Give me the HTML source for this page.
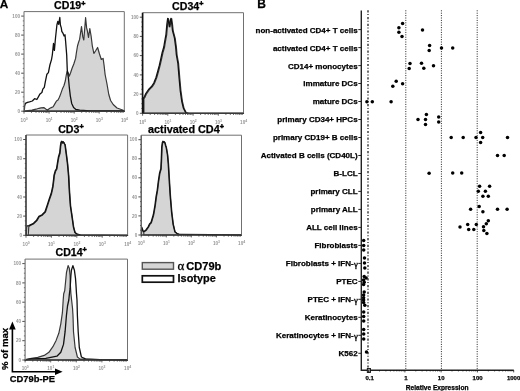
<!DOCTYPE html>
<html><head><meta charset="utf-8"><style>
html,body{margin:0;padding:0;background:#fff;}
svg{display:block;will-change:transform;}
text[font-weight="bold"]{stroke:#000;stroke-width:0.25px;}
</style></head><body>
<svg width="520" height="391" viewBox="0 0 520 391">
<rect width="520" height="391" fill="#fff"/>
<text x="-0.2" y="8.3" font-size="11.8" font-weight="bold" font-family='"Liberation Sans", sans-serif'>A</text>
<line x1="21.2" y1="111.2" x2="24.0" y2="111.2" stroke="#3a3a3a" stroke-width="0.9"/>
<text x="20.0" y="112.8" font-size="4.6" font-weight="700" text-anchor="end" fill="#959595" font-family='"Liberation Sans", sans-serif'>0</text>
<line x1="22.8" y1="106.4" x2="24.0" y2="106.4" stroke="#3a3a3a" stroke-width="0.8"/>
<line x1="22.8" y1="101.7" x2="24.0" y2="101.7" stroke="#3a3a3a" stroke-width="0.8"/>
<line x1="22.8" y1="96.9" x2="24.0" y2="96.9" stroke="#3a3a3a" stroke-width="0.8"/>
<line x1="21.2" y1="92.2" x2="24.0" y2="92.2" stroke="#3a3a3a" stroke-width="0.9"/>
<text x="20.0" y="93.8" font-size="4.6" font-weight="700" text-anchor="end" fill="#959595" font-family='"Liberation Sans", sans-serif'>20</text>
<line x1="22.8" y1="87.4" x2="24.0" y2="87.4" stroke="#3a3a3a" stroke-width="0.8"/>
<line x1="22.8" y1="82.7" x2="24.0" y2="82.7" stroke="#3a3a3a" stroke-width="0.8"/>
<line x1="22.8" y1="77.9" x2="24.0" y2="77.9" stroke="#3a3a3a" stroke-width="0.8"/>
<line x1="21.2" y1="73.2" x2="24.0" y2="73.2" stroke="#3a3a3a" stroke-width="0.9"/>
<text x="20.0" y="74.8" font-size="4.6" font-weight="700" text-anchor="end" fill="#959595" font-family='"Liberation Sans", sans-serif'>40</text>
<line x1="22.8" y1="68.4" x2="24.0" y2="68.4" stroke="#3a3a3a" stroke-width="0.8"/>
<line x1="22.8" y1="63.7" x2="24.0" y2="63.7" stroke="#3a3a3a" stroke-width="0.8"/>
<line x1="22.8" y1="58.9" x2="24.0" y2="58.9" stroke="#3a3a3a" stroke-width="0.8"/>
<line x1="21.2" y1="54.1" x2="24.0" y2="54.1" stroke="#3a3a3a" stroke-width="0.9"/>
<text x="20.0" y="55.7" font-size="4.6" font-weight="700" text-anchor="end" fill="#959595" font-family='"Liberation Sans", sans-serif'>60</text>
<line x1="22.8" y1="49.4" x2="24.0" y2="49.4" stroke="#3a3a3a" stroke-width="0.8"/>
<line x1="22.8" y1="44.6" x2="24.0" y2="44.6" stroke="#3a3a3a" stroke-width="0.8"/>
<line x1="22.8" y1="39.9" x2="24.0" y2="39.9" stroke="#3a3a3a" stroke-width="0.8"/>
<line x1="21.2" y1="35.1" x2="24.0" y2="35.1" stroke="#3a3a3a" stroke-width="0.9"/>
<text x="20.0" y="36.7" font-size="4.6" font-weight="700" text-anchor="end" fill="#959595" font-family='"Liberation Sans", sans-serif'>80</text>
<line x1="22.8" y1="30.4" x2="24.0" y2="30.4" stroke="#3a3a3a" stroke-width="0.8"/>
<line x1="22.8" y1="25.6" x2="24.0" y2="25.6" stroke="#3a3a3a" stroke-width="0.8"/>
<line x1="22.8" y1="20.9" x2="24.0" y2="20.9" stroke="#3a3a3a" stroke-width="0.8"/>
<line x1="21.2" y1="16.1" x2="24.0" y2="16.1" stroke="#3a3a3a" stroke-width="0.9"/>
<text x="20.0" y="17.7" font-size="4.6" font-weight="700" text-anchor="end" fill="#959595" font-family='"Liberation Sans", sans-serif'>100</text>
<line x1="24.0" y1="111.2" x2="24.0" y2="113.6" stroke="#3a3a3a" stroke-width="0.8"/>
<line x1="31.5" y1="111.2" x2="31.5" y2="112.8" stroke="#3a3a3a" stroke-width="0.8"/>
<line x1="36.0" y1="111.2" x2="36.0" y2="112.8" stroke="#3a3a3a" stroke-width="0.8"/>
<line x1="39.1" y1="111.2" x2="39.1" y2="112.8" stroke="#3a3a3a" stroke-width="0.8"/>
<line x1="41.5" y1="111.2" x2="41.5" y2="112.8" stroke="#3a3a3a" stroke-width="0.8"/>
<line x1="43.5" y1="111.2" x2="43.5" y2="112.8" stroke="#3a3a3a" stroke-width="0.8"/>
<line x1="45.2" y1="111.2" x2="45.2" y2="112.8" stroke="#3a3a3a" stroke-width="0.8"/>
<line x1="46.6" y1="111.2" x2="46.6" y2="112.8" stroke="#3a3a3a" stroke-width="0.8"/>
<line x1="47.9" y1="111.2" x2="47.9" y2="112.8" stroke="#3a3a3a" stroke-width="0.8"/>
<line x1="49.1" y1="111.2" x2="49.1" y2="113.6" stroke="#3a3a3a" stroke-width="0.8"/>
<line x1="56.6" y1="111.2" x2="56.6" y2="112.8" stroke="#3a3a3a" stroke-width="0.8"/>
<line x1="61.0" y1="111.2" x2="61.0" y2="112.8" stroke="#3a3a3a" stroke-width="0.8"/>
<line x1="64.2" y1="111.2" x2="64.2" y2="112.8" stroke="#3a3a3a" stroke-width="0.8"/>
<line x1="66.6" y1="111.2" x2="66.6" y2="112.8" stroke="#3a3a3a" stroke-width="0.8"/>
<line x1="68.6" y1="111.2" x2="68.6" y2="112.8" stroke="#3a3a3a" stroke-width="0.8"/>
<line x1="70.3" y1="111.2" x2="70.3" y2="112.8" stroke="#3a3a3a" stroke-width="0.8"/>
<line x1="71.7" y1="111.2" x2="71.7" y2="112.8" stroke="#3a3a3a" stroke-width="0.8"/>
<line x1="73.0" y1="111.2" x2="73.0" y2="112.8" stroke="#3a3a3a" stroke-width="0.8"/>
<line x1="74.2" y1="111.2" x2="74.2" y2="113.6" stroke="#3a3a3a" stroke-width="0.8"/>
<line x1="81.7" y1="111.2" x2="81.7" y2="112.8" stroke="#3a3a3a" stroke-width="0.8"/>
<line x1="86.1" y1="111.2" x2="86.1" y2="112.8" stroke="#3a3a3a" stroke-width="0.8"/>
<line x1="89.2" y1="111.2" x2="89.2" y2="112.8" stroke="#3a3a3a" stroke-width="0.8"/>
<line x1="91.7" y1="111.2" x2="91.7" y2="112.8" stroke="#3a3a3a" stroke-width="0.8"/>
<line x1="93.7" y1="111.2" x2="93.7" y2="112.8" stroke="#3a3a3a" stroke-width="0.8"/>
<line x1="95.3" y1="111.2" x2="95.3" y2="112.8" stroke="#3a3a3a" stroke-width="0.8"/>
<line x1="96.8" y1="111.2" x2="96.8" y2="112.8" stroke="#3a3a3a" stroke-width="0.8"/>
<line x1="98.1" y1="111.2" x2="98.1" y2="112.8" stroke="#3a3a3a" stroke-width="0.8"/>
<line x1="99.2" y1="111.2" x2="99.2" y2="113.6" stroke="#3a3a3a" stroke-width="0.8"/>
<line x1="106.8" y1="111.2" x2="106.8" y2="112.8" stroke="#3a3a3a" stroke-width="0.8"/>
<line x1="111.2" y1="111.2" x2="111.2" y2="112.8" stroke="#3a3a3a" stroke-width="0.8"/>
<line x1="114.3" y1="111.2" x2="114.3" y2="112.8" stroke="#3a3a3a" stroke-width="0.8"/>
<line x1="116.8" y1="111.2" x2="116.8" y2="112.8" stroke="#3a3a3a" stroke-width="0.8"/>
<line x1="118.7" y1="111.2" x2="118.7" y2="112.8" stroke="#3a3a3a" stroke-width="0.8"/>
<line x1="120.4" y1="111.2" x2="120.4" y2="112.8" stroke="#3a3a3a" stroke-width="0.8"/>
<line x1="121.9" y1="111.2" x2="121.9" y2="112.8" stroke="#3a3a3a" stroke-width="0.8"/>
<line x1="123.2" y1="111.2" x2="123.2" y2="112.8" stroke="#3a3a3a" stroke-width="0.8"/>
<text x="24.1" y="121.5" font-size="4.6" font-weight="700" text-anchor="middle" fill="#959595" font-family='"Liberation Sans", sans-serif'>10<tspan font-size="3.4" dy="-2">0</tspan></text>
<text x="49.2" y="121.5" font-size="4.6" font-weight="700" text-anchor="middle" fill="#959595" font-family='"Liberation Sans", sans-serif'>10<tspan font-size="3.4" dy="-2">1</tspan></text>
<text x="74.2" y="121.5" font-size="4.6" font-weight="700" text-anchor="middle" fill="#959595" font-family='"Liberation Sans", sans-serif'>10<tspan font-size="3.4" dy="-2">2</tspan></text>
<text x="99.3" y="121.5" font-size="4.6" font-weight="700" text-anchor="middle" fill="#959595" font-family='"Liberation Sans", sans-serif'>10<tspan font-size="3.4" dy="-2">3</tspan></text>
<text x="124.4" y="121.5" font-size="4.6" font-weight="700" text-anchor="middle" fill="#959595" font-family='"Liberation Sans", sans-serif'>10<tspan font-size="3.4" dy="-2">4</tspan></text>
<text x="54.1" y="9.4" font-size="10.6" font-weight="bold" font-family='"Liberation Sans", sans-serif'>CD19<tspan font-size="7.2" dy="-3.8" stroke-width="0.5">+</tspan></text>
<polygon points="24.0,111.2 24.0,111.0 28.0,110.6 32.0,110.2 36.0,109.2 39.0,108.3 41.0,107.9 43.8,107.6 45.7,109.0 47.6,110.0 49.5,108.6 51.3,107.6 53.2,106.7 55.1,103.4 56.5,101.0 58.0,100.1 59.4,97.2 60.8,93.6 62.6,88.4 64.0,85.5 65.3,81.0 66.2,75.5 67.0,71.5 68.0,72.3 69.2,76.2 70.5,73.0 72.0,68.5 73.8,64.0 75.6,58.4 76.5,52.0 77.5,46.0 78.4,42.8 79.6,39.4 81.5,26.6 82.8,36.9 83.8,40.0 85.6,17.7 86.6,27.9 87.3,30.5 88.5,37.5 89.8,28.5 91.1,36.0 92.3,45.8 93.9,53.5 95.8,50.5 97.6,47.5 99.5,54.0 101.3,59.5 103.1,58.4 104.1,65.5 105.1,74.5 106.9,83.5 108.8,94.5 110.6,100.5 113.2,104.5 117.0,108.0 122.6,110.0 124.3,111.0 124.3,111.2" fill="#d5d5d5" stroke="#383838" stroke-width="1.2" stroke-linejoin="round"/>
<polyline points="24.3,111.0 24.6,106.0 25.4,103.3 27.5,102.3 29.5,101.8 32.3,101.0 34.6,98.7 36.9,99.5 40.0,93.9 41.9,92.5 42.8,89.2 44.3,87.3 45.3,81.9 46.9,74.2 48.4,72.6 49.9,65.0 51.5,59.6 52.3,55.0 53.5,43.5 54.4,50.4 55.5,38.0 56.9,25.0 57.8,21.5 58.7,24.4 59.8,17.5 60.4,25.0 61.3,27.9 61.8,31.3 62.9,33.1 64.1,36.0 65.0,34.8 65.6,41.2 66.7,55.0 67.3,70.7 68.4,77.8 69.3,87.3 70.3,95.8 71.7,103.4 73.6,107.6 75.9,109.5 79.7,110.2 90.0,110.8 124.3,111.0" fill="none" stroke="#111" stroke-width="1.3" stroke-linejoin="round" stroke-linecap="round"/>
<path d="M24.0,11.6 H124.3 V111.2" fill="none" stroke="#707070" stroke-width="1"/>
<path d="M24.0,111.2 H124.3" fill="none" stroke="#3a3a3a" stroke-width="1.4"/>
<path d="M24.0,11.6 V111.2" fill="none" stroke="#7a7a7a" stroke-width="1.1"/>
<line x1="139.8" y1="113.3" x2="142.6" y2="113.3" stroke="#3a3a3a" stroke-width="0.9"/>
<text x="138.6" y="114.9" font-size="4.6" font-weight="700" text-anchor="end" fill="#959595" font-family='"Liberation Sans", sans-serif'>0</text>
<line x1="141.4" y1="108.5" x2="142.6" y2="108.5" stroke="#3a3a3a" stroke-width="0.8"/>
<line x1="141.4" y1="103.7" x2="142.6" y2="103.7" stroke="#3a3a3a" stroke-width="0.8"/>
<line x1="141.4" y1="98.9" x2="142.6" y2="98.9" stroke="#3a3a3a" stroke-width="0.8"/>
<line x1="139.8" y1="94.1" x2="142.6" y2="94.1" stroke="#3a3a3a" stroke-width="0.9"/>
<text x="138.6" y="95.7" font-size="4.6" font-weight="700" text-anchor="end" fill="#959595" font-family='"Liberation Sans", sans-serif'>20</text>
<line x1="141.4" y1="89.3" x2="142.6" y2="89.3" stroke="#3a3a3a" stroke-width="0.8"/>
<line x1="141.4" y1="84.5" x2="142.6" y2="84.5" stroke="#3a3a3a" stroke-width="0.8"/>
<line x1="141.4" y1="79.7" x2="142.6" y2="79.7" stroke="#3a3a3a" stroke-width="0.8"/>
<line x1="139.8" y1="74.9" x2="142.6" y2="74.9" stroke="#3a3a3a" stroke-width="0.9"/>
<text x="138.6" y="76.5" font-size="4.6" font-weight="700" text-anchor="end" fill="#959595" font-family='"Liberation Sans", sans-serif'>40</text>
<line x1="141.4" y1="70.1" x2="142.6" y2="70.1" stroke="#3a3a3a" stroke-width="0.8"/>
<line x1="141.4" y1="65.2" x2="142.6" y2="65.2" stroke="#3a3a3a" stroke-width="0.8"/>
<line x1="141.4" y1="60.4" x2="142.6" y2="60.4" stroke="#3a3a3a" stroke-width="0.8"/>
<line x1="139.8" y1="55.6" x2="142.6" y2="55.6" stroke="#3a3a3a" stroke-width="0.9"/>
<text x="138.6" y="57.2" font-size="4.6" font-weight="700" text-anchor="end" fill="#959595" font-family='"Liberation Sans", sans-serif'>60</text>
<line x1="141.4" y1="50.8" x2="142.6" y2="50.8" stroke="#3a3a3a" stroke-width="0.8"/>
<line x1="141.4" y1="46.0" x2="142.6" y2="46.0" stroke="#3a3a3a" stroke-width="0.8"/>
<line x1="141.4" y1="41.2" x2="142.6" y2="41.2" stroke="#3a3a3a" stroke-width="0.8"/>
<line x1="139.8" y1="36.4" x2="142.6" y2="36.4" stroke="#3a3a3a" stroke-width="0.9"/>
<text x="138.6" y="38.0" font-size="4.6" font-weight="700" text-anchor="end" fill="#959595" font-family='"Liberation Sans", sans-serif'>80</text>
<line x1="141.4" y1="31.6" x2="142.6" y2="31.6" stroke="#3a3a3a" stroke-width="0.8"/>
<line x1="141.4" y1="26.8" x2="142.6" y2="26.8" stroke="#3a3a3a" stroke-width="0.8"/>
<line x1="141.4" y1="22.0" x2="142.6" y2="22.0" stroke="#3a3a3a" stroke-width="0.8"/>
<line x1="139.8" y1="17.2" x2="142.6" y2="17.2" stroke="#3a3a3a" stroke-width="0.9"/>
<text x="138.6" y="18.8" font-size="4.6" font-weight="700" text-anchor="end" fill="#959595" font-family='"Liberation Sans", sans-serif'>100</text>
<line x1="142.6" y1="113.3" x2="142.6" y2="115.7" stroke="#3a3a3a" stroke-width="0.8"/>
<line x1="150.2" y1="113.3" x2="150.2" y2="114.9" stroke="#3a3a3a" stroke-width="0.8"/>
<line x1="154.6" y1="113.3" x2="154.6" y2="114.9" stroke="#3a3a3a" stroke-width="0.8"/>
<line x1="157.8" y1="113.3" x2="157.8" y2="114.9" stroke="#3a3a3a" stroke-width="0.8"/>
<line x1="160.2" y1="113.3" x2="160.2" y2="114.9" stroke="#3a3a3a" stroke-width="0.8"/>
<line x1="162.2" y1="113.3" x2="162.2" y2="114.9" stroke="#3a3a3a" stroke-width="0.8"/>
<line x1="163.9" y1="113.3" x2="163.9" y2="114.9" stroke="#3a3a3a" stroke-width="0.8"/>
<line x1="165.4" y1="113.3" x2="165.4" y2="114.9" stroke="#3a3a3a" stroke-width="0.8"/>
<line x1="166.7" y1="113.3" x2="166.7" y2="114.9" stroke="#3a3a3a" stroke-width="0.8"/>
<line x1="167.8" y1="113.3" x2="167.8" y2="115.7" stroke="#3a3a3a" stroke-width="0.8"/>
<line x1="175.4" y1="113.3" x2="175.4" y2="114.9" stroke="#3a3a3a" stroke-width="0.8"/>
<line x1="179.9" y1="113.3" x2="179.9" y2="114.9" stroke="#3a3a3a" stroke-width="0.8"/>
<line x1="183.0" y1="113.3" x2="183.0" y2="114.9" stroke="#3a3a3a" stroke-width="0.8"/>
<line x1="185.5" y1="113.3" x2="185.5" y2="114.9" stroke="#3a3a3a" stroke-width="0.8"/>
<line x1="187.5" y1="113.3" x2="187.5" y2="114.9" stroke="#3a3a3a" stroke-width="0.8"/>
<line x1="189.1" y1="113.3" x2="189.1" y2="114.9" stroke="#3a3a3a" stroke-width="0.8"/>
<line x1="190.6" y1="113.3" x2="190.6" y2="114.9" stroke="#3a3a3a" stroke-width="0.8"/>
<line x1="191.9" y1="113.3" x2="191.9" y2="114.9" stroke="#3a3a3a" stroke-width="0.8"/>
<line x1="193.1" y1="113.3" x2="193.1" y2="115.7" stroke="#3a3a3a" stroke-width="0.8"/>
<line x1="200.6" y1="113.3" x2="200.6" y2="114.9" stroke="#3a3a3a" stroke-width="0.8"/>
<line x1="205.1" y1="113.3" x2="205.1" y2="114.9" stroke="#3a3a3a" stroke-width="0.8"/>
<line x1="208.2" y1="113.3" x2="208.2" y2="114.9" stroke="#3a3a3a" stroke-width="0.8"/>
<line x1="210.7" y1="113.3" x2="210.7" y2="114.9" stroke="#3a3a3a" stroke-width="0.8"/>
<line x1="212.7" y1="113.3" x2="212.7" y2="114.9" stroke="#3a3a3a" stroke-width="0.8"/>
<line x1="214.4" y1="113.3" x2="214.4" y2="114.9" stroke="#3a3a3a" stroke-width="0.8"/>
<line x1="215.8" y1="113.3" x2="215.8" y2="114.9" stroke="#3a3a3a" stroke-width="0.8"/>
<line x1="217.1" y1="113.3" x2="217.1" y2="114.9" stroke="#3a3a3a" stroke-width="0.8"/>
<line x1="218.3" y1="113.3" x2="218.3" y2="115.7" stroke="#3a3a3a" stroke-width="0.8"/>
<line x1="225.9" y1="113.3" x2="225.9" y2="114.9" stroke="#3a3a3a" stroke-width="0.8"/>
<line x1="230.3" y1="113.3" x2="230.3" y2="114.9" stroke="#3a3a3a" stroke-width="0.8"/>
<line x1="233.5" y1="113.3" x2="233.5" y2="114.9" stroke="#3a3a3a" stroke-width="0.8"/>
<line x1="235.9" y1="113.3" x2="235.9" y2="114.9" stroke="#3a3a3a" stroke-width="0.8"/>
<line x1="237.9" y1="113.3" x2="237.9" y2="114.9" stroke="#3a3a3a" stroke-width="0.8"/>
<line x1="239.6" y1="113.3" x2="239.6" y2="114.9" stroke="#3a3a3a" stroke-width="0.8"/>
<line x1="241.1" y1="113.3" x2="241.1" y2="114.9" stroke="#3a3a3a" stroke-width="0.8"/>
<line x1="242.3" y1="113.3" x2="242.3" y2="114.9" stroke="#3a3a3a" stroke-width="0.8"/>
<text x="142.7" y="123.6" font-size="4.6" font-weight="700" text-anchor="middle" fill="#959595" font-family='"Liberation Sans", sans-serif'>10<tspan font-size="3.4" dy="-2">0</tspan></text>
<text x="167.9" y="123.6" font-size="4.6" font-weight="700" text-anchor="middle" fill="#959595" font-family='"Liberation Sans", sans-serif'>10<tspan font-size="3.4" dy="-2">1</tspan></text>
<text x="193.2" y="123.6" font-size="4.6" font-weight="700" text-anchor="middle" fill="#959595" font-family='"Liberation Sans", sans-serif'>10<tspan font-size="3.4" dy="-2">2</tspan></text>
<text x="218.4" y="123.6" font-size="4.6" font-weight="700" text-anchor="middle" fill="#959595" font-family='"Liberation Sans", sans-serif'>10<tspan font-size="3.4" dy="-2">3</tspan></text>
<text x="243.6" y="123.6" font-size="4.6" font-weight="700" text-anchor="middle" fill="#959595" font-family='"Liberation Sans", sans-serif'>10<tspan font-size="3.4" dy="-2">4</tspan></text>
<text x="172.1" y="9.7" font-size="10.6" font-weight="bold" font-family='"Liberation Sans", sans-serif'>CD34<tspan font-size="7.2" dy="-3.8" stroke-width="0.5">+</tspan></text>
<polygon points="143.9,113.3 143.9,98.8 145.2,96.8 146.5,93.8 149.2,89.8 152.2,86.8 154.5,83.3 156.7,77.8 158.4,71.8 160.0,65.8 161.5,59.3 162.9,52.8 164.5,47.3 165.3,42.3 166.7,34.6 167.6,24.3 168.4,18.6 169.2,21.8 170.0,26.9 170.9,21.3 171.7,18.6 172.5,24.3 173.2,30.8 175.2,38.4 176.4,47.4 177.1,55.3 178.6,63.7 179.8,78.3 180.9,90.6 182.4,101.3 184.0,108.2 186.3,112.8 188.7,113.6 188.7,113.3" fill="#d5d5d5" stroke="#383838" stroke-width="1.2" stroke-linejoin="round"/>
<polyline points="143.2,113.3 143.2,98.5 144.5,96.5 145.8,93.5 148.5,89.5 151.5,86.5 153.8,83.0 156.0,77.5 157.7,71.5 159.3,65.5 160.8,59.0 162.2,52.5 163.8,47.0 164.6,42.0 166.0,34.3 166.9,24.0 167.7,18.3 168.5,21.5 169.3,26.6 170.2,21.0 171.0,18.3 171.8,24.0 172.5,30.5 174.5,38.1 175.7,47.1 176.4,55.0 177.9,63.4 179.1,78.0 180.2,90.3 181.7,101.0 183.3,107.9 185.6,112.5 188.0,113.3 243.5,113.3" fill="none" stroke="#111" stroke-width="1.3" stroke-linejoin="round" stroke-linecap="round"/>
<path d="M142.6,12.7 H243.5 V113.3" fill="none" stroke="#707070" stroke-width="1"/>
<path d="M142.6,113.3 H243.5" fill="none" stroke="#3a3a3a" stroke-width="1.4"/>
<path d="M142.6,12.7 V113.3" fill="none" stroke="#111" stroke-width="1.7"/>
<line x1="23.2" y1="235.3" x2="26.0" y2="235.3" stroke="#3a3a3a" stroke-width="0.9"/>
<text x="22.0" y="236.9" font-size="4.6" font-weight="700" text-anchor="end" fill="#959595" font-family='"Liberation Sans", sans-serif'>0</text>
<line x1="24.8" y1="230.5" x2="26.0" y2="230.5" stroke="#3a3a3a" stroke-width="0.8"/>
<line x1="24.8" y1="225.7" x2="26.0" y2="225.7" stroke="#3a3a3a" stroke-width="0.8"/>
<line x1="24.8" y1="220.9" x2="26.0" y2="220.9" stroke="#3a3a3a" stroke-width="0.8"/>
<line x1="23.2" y1="216.1" x2="26.0" y2="216.1" stroke="#3a3a3a" stroke-width="0.9"/>
<text x="22.0" y="217.7" font-size="4.6" font-weight="700" text-anchor="end" fill="#959595" font-family='"Liberation Sans", sans-serif'>20</text>
<line x1="24.8" y1="211.4" x2="26.0" y2="211.4" stroke="#3a3a3a" stroke-width="0.8"/>
<line x1="24.8" y1="206.6" x2="26.0" y2="206.6" stroke="#3a3a3a" stroke-width="0.8"/>
<line x1="24.8" y1="201.8" x2="26.0" y2="201.8" stroke="#3a3a3a" stroke-width="0.8"/>
<line x1="23.2" y1="197.0" x2="26.0" y2="197.0" stroke="#3a3a3a" stroke-width="0.9"/>
<text x="22.0" y="198.6" font-size="4.6" font-weight="700" text-anchor="end" fill="#959595" font-family='"Liberation Sans", sans-serif'>40</text>
<line x1="24.8" y1="192.2" x2="26.0" y2="192.2" stroke="#3a3a3a" stroke-width="0.8"/>
<line x1="24.8" y1="187.4" x2="26.0" y2="187.4" stroke="#3a3a3a" stroke-width="0.8"/>
<line x1="24.8" y1="182.6" x2="26.0" y2="182.6" stroke="#3a3a3a" stroke-width="0.8"/>
<line x1="23.2" y1="177.8" x2="26.0" y2="177.8" stroke="#3a3a3a" stroke-width="0.9"/>
<text x="22.0" y="179.4" font-size="4.6" font-weight="700" text-anchor="end" fill="#959595" font-family='"Liberation Sans", sans-serif'>60</text>
<line x1="24.8" y1="173.0" x2="26.0" y2="173.0" stroke="#3a3a3a" stroke-width="0.8"/>
<line x1="24.8" y1="168.2" x2="26.0" y2="168.2" stroke="#3a3a3a" stroke-width="0.8"/>
<line x1="24.8" y1="163.4" x2="26.0" y2="163.4" stroke="#3a3a3a" stroke-width="0.8"/>
<line x1="23.2" y1="158.7" x2="26.0" y2="158.7" stroke="#3a3a3a" stroke-width="0.9"/>
<text x="22.0" y="160.3" font-size="4.6" font-weight="700" text-anchor="end" fill="#959595" font-family='"Liberation Sans", sans-serif'>80</text>
<line x1="24.8" y1="153.9" x2="26.0" y2="153.9" stroke="#3a3a3a" stroke-width="0.8"/>
<line x1="24.8" y1="149.1" x2="26.0" y2="149.1" stroke="#3a3a3a" stroke-width="0.8"/>
<line x1="24.8" y1="144.3" x2="26.0" y2="144.3" stroke="#3a3a3a" stroke-width="0.8"/>
<line x1="23.2" y1="139.5" x2="26.0" y2="139.5" stroke="#3a3a3a" stroke-width="0.9"/>
<text x="22.0" y="141.1" font-size="4.6" font-weight="700" text-anchor="end" fill="#959595" font-family='"Liberation Sans", sans-serif'>100</text>
<line x1="26.0" y1="235.3" x2="26.0" y2="237.7" stroke="#3a3a3a" stroke-width="0.8"/>
<line x1="33.6" y1="235.3" x2="33.6" y2="236.9" stroke="#3a3a3a" stroke-width="0.8"/>
<line x1="38.1" y1="235.3" x2="38.1" y2="236.9" stroke="#3a3a3a" stroke-width="0.8"/>
<line x1="41.3" y1="235.3" x2="41.3" y2="236.9" stroke="#3a3a3a" stroke-width="0.8"/>
<line x1="43.8" y1="235.3" x2="43.8" y2="236.9" stroke="#3a3a3a" stroke-width="0.8"/>
<line x1="45.8" y1="235.3" x2="45.8" y2="236.9" stroke="#3a3a3a" stroke-width="0.8"/>
<line x1="47.5" y1="235.3" x2="47.5" y2="236.9" stroke="#3a3a3a" stroke-width="0.8"/>
<line x1="48.9" y1="235.3" x2="48.9" y2="236.9" stroke="#3a3a3a" stroke-width="0.8"/>
<line x1="50.2" y1="235.3" x2="50.2" y2="236.9" stroke="#3a3a3a" stroke-width="0.8"/>
<line x1="51.4" y1="235.3" x2="51.4" y2="237.7" stroke="#3a3a3a" stroke-width="0.8"/>
<line x1="59.0" y1="235.3" x2="59.0" y2="236.9" stroke="#3a3a3a" stroke-width="0.8"/>
<line x1="63.5" y1="235.3" x2="63.5" y2="236.9" stroke="#3a3a3a" stroke-width="0.8"/>
<line x1="66.7" y1="235.3" x2="66.7" y2="236.9" stroke="#3a3a3a" stroke-width="0.8"/>
<line x1="69.2" y1="235.3" x2="69.2" y2="236.9" stroke="#3a3a3a" stroke-width="0.8"/>
<line x1="71.2" y1="235.3" x2="71.2" y2="236.9" stroke="#3a3a3a" stroke-width="0.8"/>
<line x1="72.9" y1="235.3" x2="72.9" y2="236.9" stroke="#3a3a3a" stroke-width="0.8"/>
<line x1="74.3" y1="235.3" x2="74.3" y2="236.9" stroke="#3a3a3a" stroke-width="0.8"/>
<line x1="75.6" y1="235.3" x2="75.6" y2="236.9" stroke="#3a3a3a" stroke-width="0.8"/>
<line x1="76.8" y1="235.3" x2="76.8" y2="237.7" stroke="#3a3a3a" stroke-width="0.8"/>
<line x1="84.4" y1="235.3" x2="84.4" y2="236.9" stroke="#3a3a3a" stroke-width="0.8"/>
<line x1="88.9" y1="235.3" x2="88.9" y2="236.9" stroke="#3a3a3a" stroke-width="0.8"/>
<line x1="92.1" y1="235.3" x2="92.1" y2="236.9" stroke="#3a3a3a" stroke-width="0.8"/>
<line x1="94.6" y1="235.3" x2="94.6" y2="236.9" stroke="#3a3a3a" stroke-width="0.8"/>
<line x1="96.6" y1="235.3" x2="96.6" y2="236.9" stroke="#3a3a3a" stroke-width="0.8"/>
<line x1="98.3" y1="235.3" x2="98.3" y2="236.9" stroke="#3a3a3a" stroke-width="0.8"/>
<line x1="99.7" y1="235.3" x2="99.7" y2="236.9" stroke="#3a3a3a" stroke-width="0.8"/>
<line x1="101.0" y1="235.3" x2="101.0" y2="236.9" stroke="#3a3a3a" stroke-width="0.8"/>
<line x1="102.2" y1="235.3" x2="102.2" y2="237.7" stroke="#3a3a3a" stroke-width="0.8"/>
<line x1="109.8" y1="235.3" x2="109.8" y2="236.9" stroke="#3a3a3a" stroke-width="0.8"/>
<line x1="114.3" y1="235.3" x2="114.3" y2="236.9" stroke="#3a3a3a" stroke-width="0.8"/>
<line x1="117.5" y1="235.3" x2="117.5" y2="236.9" stroke="#3a3a3a" stroke-width="0.8"/>
<line x1="120.0" y1="235.3" x2="120.0" y2="236.9" stroke="#3a3a3a" stroke-width="0.8"/>
<line x1="122.0" y1="235.3" x2="122.0" y2="236.9" stroke="#3a3a3a" stroke-width="0.8"/>
<line x1="123.7" y1="235.3" x2="123.7" y2="236.9" stroke="#3a3a3a" stroke-width="0.8"/>
<line x1="125.1" y1="235.3" x2="125.1" y2="236.9" stroke="#3a3a3a" stroke-width="0.8"/>
<line x1="126.4" y1="235.3" x2="126.4" y2="236.9" stroke="#3a3a3a" stroke-width="0.8"/>
<text x="26.1" y="245.6" font-size="4.6" font-weight="700" text-anchor="middle" fill="#959595" font-family='"Liberation Sans", sans-serif'>10<tspan font-size="3.4" dy="-2">0</tspan></text>
<text x="51.5" y="245.6" font-size="4.6" font-weight="700" text-anchor="middle" fill="#959595" font-family='"Liberation Sans", sans-serif'>10<tspan font-size="3.4" dy="-2">1</tspan></text>
<text x="76.9" y="245.6" font-size="4.6" font-weight="700" text-anchor="middle" fill="#959595" font-family='"Liberation Sans", sans-serif'>10<tspan font-size="3.4" dy="-2">2</tspan></text>
<text x="102.3" y="245.6" font-size="4.6" font-weight="700" text-anchor="middle" fill="#959595" font-family='"Liberation Sans", sans-serif'>10<tspan font-size="3.4" dy="-2">3</tspan></text>
<text x="127.7" y="245.6" font-size="4.6" font-weight="700" text-anchor="middle" fill="#959595" font-family='"Liberation Sans", sans-serif'>10<tspan font-size="3.4" dy="-2">4</tspan></text>
<text x="58.2" y="132.5" font-size="10.6" font-weight="bold" font-family='"Liberation Sans", sans-serif'>CD3<tspan font-size="7.2" dy="-3.8" stroke-width="0.5">+</tspan></text>
<polygon points="28.2,235.3 28.2,235.3 28.8,226.5 30.8,225.2 33.9,223.7 37.0,220.6 39.3,216.8 42.4,215.2 45.4,212.2 47.7,205.3 49.7,199.1 51.6,193.7 53.1,186.8 53.9,180.4 54.4,175.6 55.7,171.1 56.9,169.2 58.2,160.9 58.9,157.1 60.1,153.2 60.8,146.2 61.4,142.6 62.1,141.7 62.8,143.2 63.5,142.1 64.0,142.6 64.7,144.0 65.3,144.9 66.5,153.9 67.8,164.1 68.9,176.4 69.6,190.4 70.7,206.0 72.3,216.8 73.8,227.5 75.3,232.9 77.6,234.4 80.4,235.2 80.4,235.3" fill="#d5d5d5" stroke="#383838" stroke-width="1.2" stroke-linejoin="round"/>
<polyline points="26.3,235.3 26.8,226.0 28.9,225.6 30.4,224.8 33.5,223.3 36.6,220.2 38.9,216.4 42.0,214.8 45.0,211.8 47.3,204.9 49.3,198.7 51.2,193.3 52.7,186.4 53.5,180.0 54.0,175.2 55.3,170.7 56.5,168.8 57.8,160.5 58.5,156.7 59.7,152.8 60.4,145.8 61.0,142.2 61.7,141.3 62.4,142.8 63.1,141.7 63.6,142.2 64.3,143.6 64.9,144.5 66.1,153.5 67.4,163.7 68.5,176.0 69.2,190.0 70.3,205.6 71.9,216.4 73.4,227.1 74.9,232.5 77.2,234.0 80.0,234.8 127.6,235.3" fill="none" stroke="#111" stroke-width="1.3" stroke-linejoin="round" stroke-linecap="round"/>
<path d="M26.0,135.0 H127.6 V235.3" fill="none" stroke="#707070" stroke-width="1"/>
<path d="M26.0,235.3 H127.6" fill="none" stroke="#3a3a3a" stroke-width="1.4"/>
<path d="M26.0,135.0 V235.3" fill="none" stroke="#444" stroke-width="1.7"/>
<line x1="138.4" y1="235.0" x2="141.2" y2="235.0" stroke="#3a3a3a" stroke-width="0.9"/>
<text x="137.2" y="236.6" font-size="4.6" font-weight="700" text-anchor="end" fill="#959595" font-family='"Liberation Sans", sans-serif'>0</text>
<line x1="140.0" y1="230.2" x2="141.2" y2="230.2" stroke="#3a3a3a" stroke-width="0.8"/>
<line x1="140.0" y1="225.5" x2="141.2" y2="225.5" stroke="#3a3a3a" stroke-width="0.8"/>
<line x1="140.0" y1="220.7" x2="141.2" y2="220.7" stroke="#3a3a3a" stroke-width="0.8"/>
<line x1="138.4" y1="215.9" x2="141.2" y2="215.9" stroke="#3a3a3a" stroke-width="0.9"/>
<text x="137.2" y="217.5" font-size="4.6" font-weight="700" text-anchor="end" fill="#959595" font-family='"Liberation Sans", sans-serif'>20</text>
<line x1="140.0" y1="211.2" x2="141.2" y2="211.2" stroke="#3a3a3a" stroke-width="0.8"/>
<line x1="140.0" y1="206.4" x2="141.2" y2="206.4" stroke="#3a3a3a" stroke-width="0.8"/>
<line x1="140.0" y1="201.6" x2="141.2" y2="201.6" stroke="#3a3a3a" stroke-width="0.8"/>
<line x1="138.4" y1="196.9" x2="141.2" y2="196.9" stroke="#3a3a3a" stroke-width="0.9"/>
<text x="137.2" y="198.5" font-size="4.6" font-weight="700" text-anchor="end" fill="#959595" font-family='"Liberation Sans", sans-serif'>40</text>
<line x1="140.0" y1="192.1" x2="141.2" y2="192.1" stroke="#3a3a3a" stroke-width="0.8"/>
<line x1="140.0" y1="187.3" x2="141.2" y2="187.3" stroke="#3a3a3a" stroke-width="0.8"/>
<line x1="140.0" y1="182.6" x2="141.2" y2="182.6" stroke="#3a3a3a" stroke-width="0.8"/>
<line x1="138.4" y1="177.8" x2="141.2" y2="177.8" stroke="#3a3a3a" stroke-width="0.9"/>
<text x="137.2" y="179.4" font-size="4.6" font-weight="700" text-anchor="end" fill="#959595" font-family='"Liberation Sans", sans-serif'>60</text>
<line x1="140.0" y1="173.1" x2="141.2" y2="173.1" stroke="#3a3a3a" stroke-width="0.8"/>
<line x1="140.0" y1="168.3" x2="141.2" y2="168.3" stroke="#3a3a3a" stroke-width="0.8"/>
<line x1="140.0" y1="163.5" x2="141.2" y2="163.5" stroke="#3a3a3a" stroke-width="0.8"/>
<line x1="138.4" y1="158.8" x2="141.2" y2="158.8" stroke="#3a3a3a" stroke-width="0.9"/>
<text x="137.2" y="160.4" font-size="4.6" font-weight="700" text-anchor="end" fill="#959595" font-family='"Liberation Sans", sans-serif'>80</text>
<line x1="140.0" y1="154.0" x2="141.2" y2="154.0" stroke="#3a3a3a" stroke-width="0.8"/>
<line x1="140.0" y1="149.2" x2="141.2" y2="149.2" stroke="#3a3a3a" stroke-width="0.8"/>
<line x1="140.0" y1="144.5" x2="141.2" y2="144.5" stroke="#3a3a3a" stroke-width="0.8"/>
<line x1="138.4" y1="139.7" x2="141.2" y2="139.7" stroke="#3a3a3a" stroke-width="0.9"/>
<text x="137.2" y="141.3" font-size="4.6" font-weight="700" text-anchor="end" fill="#959595" font-family='"Liberation Sans", sans-serif'>100</text>
<line x1="141.2" y1="235.0" x2="141.2" y2="237.4" stroke="#3a3a3a" stroke-width="0.8"/>
<line x1="148.7" y1="235.0" x2="148.7" y2="236.6" stroke="#3a3a3a" stroke-width="0.8"/>
<line x1="153.2" y1="235.0" x2="153.2" y2="236.6" stroke="#3a3a3a" stroke-width="0.8"/>
<line x1="156.3" y1="235.0" x2="156.3" y2="236.6" stroke="#3a3a3a" stroke-width="0.8"/>
<line x1="158.7" y1="235.0" x2="158.7" y2="236.6" stroke="#3a3a3a" stroke-width="0.8"/>
<line x1="160.7" y1="235.0" x2="160.7" y2="236.6" stroke="#3a3a3a" stroke-width="0.8"/>
<line x1="162.4" y1="235.0" x2="162.4" y2="236.6" stroke="#3a3a3a" stroke-width="0.8"/>
<line x1="163.8" y1="235.0" x2="163.8" y2="236.6" stroke="#3a3a3a" stroke-width="0.8"/>
<line x1="165.1" y1="235.0" x2="165.1" y2="236.6" stroke="#3a3a3a" stroke-width="0.8"/>
<line x1="166.3" y1="235.0" x2="166.3" y2="237.4" stroke="#3a3a3a" stroke-width="0.8"/>
<line x1="173.8" y1="235.0" x2="173.8" y2="236.6" stroke="#3a3a3a" stroke-width="0.8"/>
<line x1="178.2" y1="235.0" x2="178.2" y2="236.6" stroke="#3a3a3a" stroke-width="0.8"/>
<line x1="181.4" y1="235.0" x2="181.4" y2="236.6" stroke="#3a3a3a" stroke-width="0.8"/>
<line x1="183.8" y1="235.0" x2="183.8" y2="236.6" stroke="#3a3a3a" stroke-width="0.8"/>
<line x1="185.8" y1="235.0" x2="185.8" y2="236.6" stroke="#3a3a3a" stroke-width="0.8"/>
<line x1="187.5" y1="235.0" x2="187.5" y2="236.6" stroke="#3a3a3a" stroke-width="0.8"/>
<line x1="188.9" y1="235.0" x2="188.9" y2="236.6" stroke="#3a3a3a" stroke-width="0.8"/>
<line x1="190.2" y1="235.0" x2="190.2" y2="236.6" stroke="#3a3a3a" stroke-width="0.8"/>
<line x1="191.3" y1="235.0" x2="191.3" y2="237.4" stroke="#3a3a3a" stroke-width="0.8"/>
<line x1="198.9" y1="235.0" x2="198.9" y2="236.6" stroke="#3a3a3a" stroke-width="0.8"/>
<line x1="203.3" y1="235.0" x2="203.3" y2="236.6" stroke="#3a3a3a" stroke-width="0.8"/>
<line x1="206.4" y1="235.0" x2="206.4" y2="236.6" stroke="#3a3a3a" stroke-width="0.8"/>
<line x1="208.9" y1="235.0" x2="208.9" y2="236.6" stroke="#3a3a3a" stroke-width="0.8"/>
<line x1="210.9" y1="235.0" x2="210.9" y2="236.6" stroke="#3a3a3a" stroke-width="0.8"/>
<line x1="212.5" y1="235.0" x2="212.5" y2="236.6" stroke="#3a3a3a" stroke-width="0.8"/>
<line x1="214.0" y1="235.0" x2="214.0" y2="236.6" stroke="#3a3a3a" stroke-width="0.8"/>
<line x1="215.3" y1="235.0" x2="215.3" y2="236.6" stroke="#3a3a3a" stroke-width="0.8"/>
<line x1="216.4" y1="235.0" x2="216.4" y2="237.4" stroke="#3a3a3a" stroke-width="0.8"/>
<line x1="224.0" y1="235.0" x2="224.0" y2="236.6" stroke="#3a3a3a" stroke-width="0.8"/>
<line x1="228.4" y1="235.0" x2="228.4" y2="236.6" stroke="#3a3a3a" stroke-width="0.8"/>
<line x1="231.5" y1="235.0" x2="231.5" y2="236.6" stroke="#3a3a3a" stroke-width="0.8"/>
<line x1="234.0" y1="235.0" x2="234.0" y2="236.6" stroke="#3a3a3a" stroke-width="0.8"/>
<line x1="235.9" y1="235.0" x2="235.9" y2="236.6" stroke="#3a3a3a" stroke-width="0.8"/>
<line x1="237.6" y1="235.0" x2="237.6" y2="236.6" stroke="#3a3a3a" stroke-width="0.8"/>
<line x1="239.1" y1="235.0" x2="239.1" y2="236.6" stroke="#3a3a3a" stroke-width="0.8"/>
<line x1="240.4" y1="235.0" x2="240.4" y2="236.6" stroke="#3a3a3a" stroke-width="0.8"/>
<text x="141.3" y="245.3" font-size="4.6" font-weight="700" text-anchor="middle" fill="#959595" font-family='"Liberation Sans", sans-serif'>10<tspan font-size="3.4" dy="-2">0</tspan></text>
<text x="166.4" y="245.3" font-size="4.6" font-weight="700" text-anchor="middle" fill="#959595" font-family='"Liberation Sans", sans-serif'>10<tspan font-size="3.4" dy="-2">1</tspan></text>
<text x="191.4" y="245.3" font-size="4.6" font-weight="700" text-anchor="middle" fill="#959595" font-family='"Liberation Sans", sans-serif'>10<tspan font-size="3.4" dy="-2">2</tspan></text>
<text x="216.5" y="245.3" font-size="4.6" font-weight="700" text-anchor="middle" fill="#959595" font-family='"Liberation Sans", sans-serif'>10<tspan font-size="3.4" dy="-2">3</tspan></text>
<text x="241.6" y="245.3" font-size="4.6" font-weight="700" text-anchor="middle" fill="#959595" font-family='"Liberation Sans", sans-serif'>10<tspan font-size="3.4" dy="-2">4</tspan></text>
<text x="148.0" y="132.7" font-size="10.85" font-weight="bold" font-family='"Liberation Sans", sans-serif'>activated CD4<tspan font-size="7.2" dy="-3.8" stroke-width="0.5">+</tspan></text>
<polygon points="143.8,235.0 143.8,232.1 146.1,230.6 148.4,227.5 149.9,224.4 151.4,222.9 153.7,215.2 155.3,206.0 156.5,196.8 157.6,190.7 158.6,182.4 159.9,173.7 161.2,169.2 161.7,159.0 162.1,147.5 162.7,142.9 163.3,141.7 164.1,142.6 164.7,142.2 165.3,143.2 165.9,145.9 166.5,147.5 167.8,155.1 168.6,164.1 169.2,174.3 169.8,184.4 170.6,196.8 171.9,212.2 173.4,224.4 175.2,232.1 177.5,233.9 180.4,234.9 180.4,235.0" fill="#d5d5d5" stroke="#383838" stroke-width="1.2" stroke-linejoin="round"/>
<polyline points="141.5,235.0 141.8,227.1 143.4,231.7 145.7,230.2 148.0,227.1 149.5,224.0 151.0,222.5 153.3,214.8 154.9,205.6 156.1,196.4 157.2,190.3 158.2,182.0 159.5,173.3 160.8,168.8 161.3,158.6 161.7,147.1 162.3,142.5 162.9,141.3 163.7,142.2 164.3,141.8 164.9,142.8 165.5,145.5 166.1,147.1 167.4,154.7 168.2,163.7 168.8,173.9 169.4,184.0 170.2,196.4 171.5,211.8 173.0,224.0 174.8,231.7 177.1,233.5 180.0,234.5 241.5,235.0" fill="none" stroke="#111" stroke-width="1.3" stroke-linejoin="round" stroke-linecap="round"/>
<path d="M141.2,135.2 H241.5 V235.0" fill="none" stroke="#707070" stroke-width="1"/>
<path d="M141.2,235.0 H241.5" fill="none" stroke="#3a3a3a" stroke-width="1.4"/>
<path d="M141.2,135.2 V235.0" fill="none" stroke="#555" stroke-width="1.4"/>
<line x1="22.3" y1="360.0" x2="25.1" y2="360.0" stroke="#3a3a3a" stroke-width="0.9"/>
<text x="21.1" y="361.6" font-size="4.6" font-weight="700" text-anchor="end" fill="#959595" font-family='"Liberation Sans", sans-serif'>0</text>
<line x1="23.9" y1="355.2" x2="25.1" y2="355.2" stroke="#3a3a3a" stroke-width="0.8"/>
<line x1="23.9" y1="350.4" x2="25.1" y2="350.4" stroke="#3a3a3a" stroke-width="0.8"/>
<line x1="23.9" y1="345.5" x2="25.1" y2="345.5" stroke="#3a3a3a" stroke-width="0.8"/>
<line x1="22.3" y1="340.7" x2="25.1" y2="340.7" stroke="#3a3a3a" stroke-width="0.9"/>
<text x="21.1" y="342.3" font-size="4.6" font-weight="700" text-anchor="end" fill="#959595" font-family='"Liberation Sans", sans-serif'>20</text>
<line x1="23.9" y1="335.9" x2="25.1" y2="335.9" stroke="#3a3a3a" stroke-width="0.8"/>
<line x1="23.9" y1="331.1" x2="25.1" y2="331.1" stroke="#3a3a3a" stroke-width="0.8"/>
<line x1="23.9" y1="326.3" x2="25.1" y2="326.3" stroke="#3a3a3a" stroke-width="0.8"/>
<line x1="22.3" y1="321.4" x2="25.1" y2="321.4" stroke="#3a3a3a" stroke-width="0.9"/>
<text x="21.1" y="323.0" font-size="4.6" font-weight="700" text-anchor="end" fill="#959595" font-family='"Liberation Sans", sans-serif'>40</text>
<line x1="23.9" y1="316.6" x2="25.1" y2="316.6" stroke="#3a3a3a" stroke-width="0.8"/>
<line x1="23.9" y1="311.8" x2="25.1" y2="311.8" stroke="#3a3a3a" stroke-width="0.8"/>
<line x1="23.9" y1="307.0" x2="25.1" y2="307.0" stroke="#3a3a3a" stroke-width="0.8"/>
<line x1="22.3" y1="302.2" x2="25.1" y2="302.2" stroke="#3a3a3a" stroke-width="0.9"/>
<text x="21.1" y="303.8" font-size="4.6" font-weight="700" text-anchor="end" fill="#959595" font-family='"Liberation Sans", sans-serif'>60</text>
<line x1="23.9" y1="297.3" x2="25.1" y2="297.3" stroke="#3a3a3a" stroke-width="0.8"/>
<line x1="23.9" y1="292.5" x2="25.1" y2="292.5" stroke="#3a3a3a" stroke-width="0.8"/>
<line x1="23.9" y1="287.7" x2="25.1" y2="287.7" stroke="#3a3a3a" stroke-width="0.8"/>
<line x1="22.3" y1="282.9" x2="25.1" y2="282.9" stroke="#3a3a3a" stroke-width="0.9"/>
<text x="21.1" y="284.5" font-size="4.6" font-weight="700" text-anchor="end" fill="#959595" font-family='"Liberation Sans", sans-serif'>80</text>
<line x1="23.9" y1="278.1" x2="25.1" y2="278.1" stroke="#3a3a3a" stroke-width="0.8"/>
<line x1="23.9" y1="273.2" x2="25.1" y2="273.2" stroke="#3a3a3a" stroke-width="0.8"/>
<line x1="23.9" y1="268.4" x2="25.1" y2="268.4" stroke="#3a3a3a" stroke-width="0.8"/>
<line x1="22.3" y1="263.6" x2="25.1" y2="263.6" stroke="#3a3a3a" stroke-width="0.9"/>
<text x="21.1" y="265.2" font-size="4.6" font-weight="700" text-anchor="end" fill="#959595" font-family='"Liberation Sans", sans-serif'>100</text>
<line x1="25.1" y1="360.0" x2="25.1" y2="362.4" stroke="#3a3a3a" stroke-width="0.8"/>
<line x1="32.8" y1="360.0" x2="32.8" y2="361.6" stroke="#3a3a3a" stroke-width="0.8"/>
<line x1="37.3" y1="360.0" x2="37.3" y2="361.6" stroke="#3a3a3a" stroke-width="0.8"/>
<line x1="40.5" y1="360.0" x2="40.5" y2="361.6" stroke="#3a3a3a" stroke-width="0.8"/>
<line x1="43.0" y1="360.0" x2="43.0" y2="361.6" stroke="#3a3a3a" stroke-width="0.8"/>
<line x1="45.0" y1="360.0" x2="45.0" y2="361.6" stroke="#3a3a3a" stroke-width="0.8"/>
<line x1="46.7" y1="360.0" x2="46.7" y2="361.6" stroke="#3a3a3a" stroke-width="0.8"/>
<line x1="48.2" y1="360.0" x2="48.2" y2="361.6" stroke="#3a3a3a" stroke-width="0.8"/>
<line x1="49.5" y1="360.0" x2="49.5" y2="361.6" stroke="#3a3a3a" stroke-width="0.8"/>
<line x1="50.7" y1="360.0" x2="50.7" y2="362.4" stroke="#3a3a3a" stroke-width="0.8"/>
<line x1="58.4" y1="360.0" x2="58.4" y2="361.6" stroke="#3a3a3a" stroke-width="0.8"/>
<line x1="62.9" y1="360.0" x2="62.9" y2="361.6" stroke="#3a3a3a" stroke-width="0.8"/>
<line x1="66.1" y1="360.0" x2="66.1" y2="361.6" stroke="#3a3a3a" stroke-width="0.8"/>
<line x1="68.6" y1="360.0" x2="68.6" y2="361.6" stroke="#3a3a3a" stroke-width="0.8"/>
<line x1="70.6" y1="360.0" x2="70.6" y2="361.6" stroke="#3a3a3a" stroke-width="0.8"/>
<line x1="72.3" y1="360.0" x2="72.3" y2="361.6" stroke="#3a3a3a" stroke-width="0.8"/>
<line x1="73.8" y1="360.0" x2="73.8" y2="361.6" stroke="#3a3a3a" stroke-width="0.8"/>
<line x1="75.1" y1="360.0" x2="75.1" y2="361.6" stroke="#3a3a3a" stroke-width="0.8"/>
<line x1="76.3" y1="360.0" x2="76.3" y2="362.4" stroke="#3a3a3a" stroke-width="0.8"/>
<line x1="84.0" y1="360.0" x2="84.0" y2="361.6" stroke="#3a3a3a" stroke-width="0.8"/>
<line x1="88.5" y1="360.0" x2="88.5" y2="361.6" stroke="#3a3a3a" stroke-width="0.8"/>
<line x1="91.7" y1="360.0" x2="91.7" y2="361.6" stroke="#3a3a3a" stroke-width="0.8"/>
<line x1="94.2" y1="360.0" x2="94.2" y2="361.6" stroke="#3a3a3a" stroke-width="0.8"/>
<line x1="96.2" y1="360.0" x2="96.2" y2="361.6" stroke="#3a3a3a" stroke-width="0.8"/>
<line x1="97.9" y1="360.0" x2="97.9" y2="361.6" stroke="#3a3a3a" stroke-width="0.8"/>
<line x1="99.4" y1="360.0" x2="99.4" y2="361.6" stroke="#3a3a3a" stroke-width="0.8"/>
<line x1="100.7" y1="360.0" x2="100.7" y2="361.6" stroke="#3a3a3a" stroke-width="0.8"/>
<line x1="101.9" y1="360.0" x2="101.9" y2="362.4" stroke="#3a3a3a" stroke-width="0.8"/>
<line x1="109.6" y1="360.0" x2="109.6" y2="361.6" stroke="#3a3a3a" stroke-width="0.8"/>
<line x1="114.1" y1="360.0" x2="114.1" y2="361.6" stroke="#3a3a3a" stroke-width="0.8"/>
<line x1="117.3" y1="360.0" x2="117.3" y2="361.6" stroke="#3a3a3a" stroke-width="0.8"/>
<line x1="119.8" y1="360.0" x2="119.8" y2="361.6" stroke="#3a3a3a" stroke-width="0.8"/>
<line x1="121.8" y1="360.0" x2="121.8" y2="361.6" stroke="#3a3a3a" stroke-width="0.8"/>
<line x1="123.5" y1="360.0" x2="123.5" y2="361.6" stroke="#3a3a3a" stroke-width="0.8"/>
<line x1="125.0" y1="360.0" x2="125.0" y2="361.6" stroke="#3a3a3a" stroke-width="0.8"/>
<line x1="126.3" y1="360.0" x2="126.3" y2="361.6" stroke="#3a3a3a" stroke-width="0.8"/>
<text x="25.2" y="370.3" font-size="4.6" font-weight="700" text-anchor="middle" fill="#959595" font-family='"Liberation Sans", sans-serif'>10<tspan font-size="3.4" dy="-2">0</tspan></text>
<text x="50.8" y="370.3" font-size="4.6" font-weight="700" text-anchor="middle" fill="#959595" font-family='"Liberation Sans", sans-serif'>10<tspan font-size="3.4" dy="-2">1</tspan></text>
<text x="76.4" y="370.3" font-size="4.6" font-weight="700" text-anchor="middle" fill="#959595" font-family='"Liberation Sans", sans-serif'>10<tspan font-size="3.4" dy="-2">2</tspan></text>
<text x="102.0" y="370.3" font-size="4.6" font-weight="700" text-anchor="middle" fill="#959595" font-family='"Liberation Sans", sans-serif'>10<tspan font-size="3.4" dy="-2">3</tspan></text>
<text x="127.6" y="370.3" font-size="4.6" font-weight="700" text-anchor="middle" fill="#959595" font-family='"Liberation Sans", sans-serif'>10<tspan font-size="3.4" dy="-2">4</tspan></text>
<text x="55.5" y="256.2" font-size="10.6" font-weight="bold" font-family='"Liberation Sans", sans-serif'>CD14<tspan font-size="7.2" dy="-3.8" stroke-width="0.5">+</tspan></text>
<polygon points="25.2,360.0 25.2,359.6 31.5,358.3 37.8,357.3 44.2,355.4 48.9,352.3 52.9,346.7 56.1,340.4 58.8,333.3 60.8,323.8 62.4,312.7 63.2,300.0 63.7,293.8 64.7,290.7 65.7,280.5 66.5,272.3 68.1,265.6 69.3,268.2 70.1,275.4 70.4,285.6 70.9,293.8 71.6,300.0 72.5,308.0 73.0,315.8 73.5,331.7 75.1,347.5 77.4,357.0 79.8,358.9 90.0,359.7 127.5,360.0 127.5,360.0" fill="#d5d5d5" stroke="#383838" stroke-width="1.2" stroke-linejoin="round"/>
<polyline points="25.2,359.8 31.5,358.9 45.8,358.3 56.9,356.2 60.8,352.3 63.5,344.4 65.1,331.7 66.4,315.8 67.5,306.0 68.8,300.0 69.3,294.8 70.1,288.7 70.6,280.5 70.9,275.4 71.4,270.2 72.9,265.6 74.4,270.2 75.5,278.4 76.0,285.6 76.5,293.8 77.0,300.0 77.4,315.8 78.2,331.7 79.3,347.5 81.4,357.0 85.4,358.9 100.0,359.7 127.5,360.0" fill="none" stroke="#111" stroke-width="1.3" stroke-linejoin="round" stroke-linecap="round"/>
<path d="M25.1,259.1 H127.5 V360.0" fill="none" stroke="#707070" stroke-width="1"/>
<path d="M25.1,360.0 H127.5" fill="none" stroke="#3a3a3a" stroke-width="1.4"/>
<path d="M25.1,259.1 V360.0" fill="none" stroke="#777" stroke-width="1.2"/>
<rect x="142.3" y="262.6" width="31.2" height="6.6" fill="#d5d5d5" stroke="#555" stroke-width="1.4"/>
<rect x="142.3" y="275.8" width="31.2" height="6.4" fill="#fff" stroke="#111" stroke-width="1.7"/>
<text x="177.4" y="269.8" font-size="13" stroke="#000" stroke-width="0.3" font-family='"Liberation Serif", serif'>α</text>
<text x="186.3" y="269.8" font-size="11.05" font-weight="bold" font-family='"Liberation Sans", sans-serif'>CD79b</text>
<text x="177.6" y="282.4" font-size="10.9" font-weight="bold" font-family='"Liberation Sans", sans-serif'>Isotype</text>
<path d="M12.4,328 V371.8 H56" fill="none" stroke="#000" stroke-width="1.6"/>
<path d="M12.4,321.6 L15.7,329.5 L9.1,329.5 Z" fill="#000"/>
<path d="M62.6,371.8 L55,368.6 L55,375 Z" fill="#000"/>
<text transform="translate(7.6,370) rotate(-90)" font-size="9.6" font-weight="bold" font-family='"Liberation Sans", sans-serif'>% of max</text>
<text x="9.8" y="381.9" font-size="9.4" font-weight="bold" font-family='"Liberation Sans", sans-serif'>CD79b-PE</text>
<text x="257.3" y="8.2" font-size="12" font-weight="bold" font-family='"Liberation Sans", sans-serif'>B</text>
<line x1="358.3" y1="29.6" x2="361.3" y2="29.6" stroke="#222" stroke-width="1"/>
<text x="357.6" y="32.5" font-size="8" font-weight="bold" text-anchor="end" font-family='"Liberation Sans", sans-serif'>non-activated CD4+ T cells</text>
<line x1="358.3" y1="47.6" x2="361.3" y2="47.6" stroke="#222" stroke-width="1"/>
<text x="357.6" y="50.5" font-size="8" font-weight="bold" text-anchor="end" font-family='"Liberation Sans", sans-serif'>activated CD4+ T cells</text>
<line x1="358.3" y1="65.6" x2="361.3" y2="65.6" stroke="#222" stroke-width="1"/>
<text x="357.6" y="68.5" font-size="8" font-weight="bold" text-anchor="end" font-family='"Liberation Sans", sans-serif'>CD14+ monocytes</text>
<line x1="358.3" y1="83.5" x2="361.3" y2="83.5" stroke="#222" stroke-width="1"/>
<text x="357.6" y="86.4" font-size="8" font-weight="bold" text-anchor="end" font-family='"Liberation Sans", sans-serif'>immature DCs</text>
<line x1="358.3" y1="101.5" x2="361.3" y2="101.5" stroke="#222" stroke-width="1"/>
<text x="357.6" y="104.4" font-size="8" font-weight="bold" text-anchor="end" font-family='"Liberation Sans", sans-serif'>mature DCs</text>
<line x1="358.3" y1="119.5" x2="361.3" y2="119.5" stroke="#222" stroke-width="1"/>
<text x="357.6" y="122.4" font-size="8" font-weight="bold" text-anchor="end" font-family='"Liberation Sans", sans-serif'>primary CD34+ HPCs</text>
<line x1="358.3" y1="137.5" x2="361.3" y2="137.5" stroke="#222" stroke-width="1"/>
<text x="357.6" y="140.4" font-size="8" font-weight="bold" text-anchor="end" font-family='"Liberation Sans", sans-serif'>primary CD19+ B cells</text>
<line x1="358.3" y1="155.5" x2="361.3" y2="155.5" stroke="#222" stroke-width="1"/>
<text x="357.6" y="158.4" font-size="8" font-weight="bold" text-anchor="end" font-family='"Liberation Sans", sans-serif'>Activated B cells (CD40L)</text>
<line x1="358.3" y1="173.5" x2="361.3" y2="173.5" stroke="#222" stroke-width="1"/>
<text x="357.6" y="176.4" font-size="8" font-weight="bold" text-anchor="end" font-family='"Liberation Sans", sans-serif'>B-LCL</text>
<line x1="358.3" y1="191.4" x2="361.3" y2="191.4" stroke="#222" stroke-width="1"/>
<text x="357.6" y="194.3" font-size="8" font-weight="bold" text-anchor="end" font-family='"Liberation Sans", sans-serif'>primary CLL</text>
<line x1="358.3" y1="209.4" x2="361.3" y2="209.4" stroke="#222" stroke-width="1"/>
<text x="357.6" y="212.3" font-size="8" font-weight="bold" text-anchor="end" font-family='"Liberation Sans", sans-serif'>primary ALL</text>
<line x1="358.3" y1="227.4" x2="361.3" y2="227.4" stroke="#222" stroke-width="1"/>
<text x="357.6" y="230.3" font-size="8" font-weight="bold" text-anchor="end" font-family='"Liberation Sans", sans-serif'>ALL cell lines</text>
<line x1="358.3" y1="245.4" x2="361.3" y2="245.4" stroke="#222" stroke-width="1"/>
<text x="357.6" y="248.3" font-size="8" font-weight="bold" text-anchor="end" font-family='"Liberation Sans", sans-serif'>Fibroblasts</text>
<line x1="358.3" y1="263.4" x2="361.3" y2="263.4" stroke="#222" stroke-width="1"/>
<text x="353.6" y="266.3" font-size="8" font-weight="bold" text-anchor="end" font-family='"Liberation Sans", sans-serif'>Fibroblasts + IFN-</text>
<text x="354.0" y="267.0" font-size="8.6" stroke="#000" stroke-width="0.35" font-family='"Liberation Serif", serif'>γ</text>
<line x1="358.3" y1="281.4" x2="361.3" y2="281.4" stroke="#222" stroke-width="1"/>
<text x="357.6" y="284.3" font-size="8" font-weight="bold" text-anchor="end" font-family='"Liberation Sans", sans-serif'>PTEC</text>
<line x1="358.3" y1="299.3" x2="361.3" y2="299.3" stroke="#222" stroke-width="1"/>
<text x="353.6" y="302.2" font-size="8" font-weight="bold" text-anchor="end" font-family='"Liberation Sans", sans-serif'>PTEC + IFN-</text>
<text x="354.0" y="302.9" font-size="8.6" stroke="#000" stroke-width="0.35" font-family='"Liberation Serif", serif'>γ</text>
<line x1="358.3" y1="317.3" x2="361.3" y2="317.3" stroke="#222" stroke-width="1"/>
<text x="357.6" y="320.2" font-size="8" font-weight="bold" text-anchor="end" font-family='"Liberation Sans", sans-serif'>Keratinocytes</text>
<line x1="358.3" y1="335.3" x2="361.3" y2="335.3" stroke="#222" stroke-width="1"/>
<text x="353.6" y="338.2" font-size="8" font-weight="bold" text-anchor="end" font-family='"Liberation Sans", sans-serif'>Keratinocytes + IFN-</text>
<text x="354.0" y="338.9" font-size="8.6" stroke="#000" stroke-width="0.35" font-family='"Liberation Serif", serif'>γ</text>
<line x1="358.3" y1="353.3" x2="361.3" y2="353.3" stroke="#222" stroke-width="1"/>
<text x="357.6" y="356.2" font-size="8" font-weight="bold" text-anchor="end" font-family='"Liberation Sans", sans-serif'>K562</text>
<line x1="368.0" y1="10.3" x2="368.0" y2="370.2" stroke="#222" stroke-width="1.3" stroke-dasharray="2.2 1.6 1 1.9"/>
<line x1="405.8" y1="10.3" x2="405.8" y2="370.2" stroke="#222" stroke-width="1" stroke-dasharray="1 1.4"/>
<line x1="441.4" y1="10.3" x2="441.4" y2="370.2" stroke="#222" stroke-width="1" stroke-dasharray="1 1.4"/>
<line x1="477.2" y1="10.3" x2="477.2" y2="370.2" stroke="#222" stroke-width="1" stroke-dasharray="1 1.4"/>
<path d="M361.3,10.4 V370.2 H513.8" fill="none" stroke="#222" stroke-width="1.4"/>
<rect x="367.3" y="368.5" width="3.2" height="4" fill="#8a8a8a" stroke="#111" stroke-width="0.9"/>
<line x1="368.6" y1="370.2" x2="368.6" y2="372.4" stroke="#111" stroke-width="0.8"/>
<line x1="379.5" y1="370.2" x2="379.5" y2="371.4" stroke="#111" stroke-width="0.8"/>
<line x1="385.9" y1="370.2" x2="385.9" y2="371.4" stroke="#111" stroke-width="0.8"/>
<line x1="390.4" y1="370.2" x2="390.4" y2="371.4" stroke="#111" stroke-width="0.8"/>
<line x1="393.9" y1="370.2" x2="393.9" y2="371.4" stroke="#111" stroke-width="0.8"/>
<line x1="396.8" y1="370.2" x2="396.8" y2="371.4" stroke="#111" stroke-width="0.8"/>
<line x1="399.2" y1="370.2" x2="399.2" y2="371.4" stroke="#111" stroke-width="0.8"/>
<line x1="401.3" y1="370.2" x2="401.3" y2="371.4" stroke="#111" stroke-width="0.8"/>
<line x1="403.2" y1="370.2" x2="403.2" y2="371.4" stroke="#111" stroke-width="0.8"/>
<line x1="404.9" y1="370.2" x2="404.9" y2="372.4" stroke="#111" stroke-width="0.8"/>
<line x1="415.8" y1="370.2" x2="415.8" y2="371.4" stroke="#111" stroke-width="0.8"/>
<line x1="422.1" y1="370.2" x2="422.1" y2="371.4" stroke="#111" stroke-width="0.8"/>
<line x1="426.7" y1="370.2" x2="426.7" y2="371.4" stroke="#111" stroke-width="0.8"/>
<line x1="430.2" y1="370.2" x2="430.2" y2="371.4" stroke="#111" stroke-width="0.8"/>
<line x1="433.1" y1="370.2" x2="433.1" y2="371.4" stroke="#111" stroke-width="0.8"/>
<line x1="435.5" y1="370.2" x2="435.5" y2="371.4" stroke="#111" stroke-width="0.8"/>
<line x1="437.6" y1="370.2" x2="437.6" y2="371.4" stroke="#111" stroke-width="0.8"/>
<line x1="439.4" y1="370.2" x2="439.4" y2="371.4" stroke="#111" stroke-width="0.8"/>
<line x1="441.1" y1="370.2" x2="441.1" y2="372.4" stroke="#111" stroke-width="0.8"/>
<line x1="452.0" y1="370.2" x2="452.0" y2="371.4" stroke="#111" stroke-width="0.8"/>
<line x1="458.4" y1="370.2" x2="458.4" y2="371.4" stroke="#111" stroke-width="0.8"/>
<line x1="462.9" y1="370.2" x2="462.9" y2="371.4" stroke="#111" stroke-width="0.8"/>
<line x1="466.4" y1="370.2" x2="466.4" y2="371.4" stroke="#111" stroke-width="0.8"/>
<line x1="469.3" y1="370.2" x2="469.3" y2="371.4" stroke="#111" stroke-width="0.8"/>
<line x1="471.7" y1="370.2" x2="471.7" y2="371.4" stroke="#111" stroke-width="0.8"/>
<line x1="473.8" y1="370.2" x2="473.8" y2="371.4" stroke="#111" stroke-width="0.8"/>
<line x1="475.7" y1="370.2" x2="475.7" y2="371.4" stroke="#111" stroke-width="0.8"/>
<line x1="477.4" y1="370.2" x2="477.4" y2="372.4" stroke="#111" stroke-width="0.8"/>
<line x1="488.3" y1="370.2" x2="488.3" y2="371.4" stroke="#111" stroke-width="0.8"/>
<line x1="494.6" y1="370.2" x2="494.6" y2="371.4" stroke="#111" stroke-width="0.8"/>
<line x1="499.2" y1="370.2" x2="499.2" y2="371.4" stroke="#111" stroke-width="0.8"/>
<line x1="502.7" y1="370.2" x2="502.7" y2="371.4" stroke="#111" stroke-width="0.8"/>
<line x1="505.6" y1="370.2" x2="505.6" y2="371.4" stroke="#111" stroke-width="0.8"/>
<line x1="508.0" y1="370.2" x2="508.0" y2="371.4" stroke="#111" stroke-width="0.8"/>
<line x1="510.1" y1="370.2" x2="510.1" y2="371.4" stroke="#111" stroke-width="0.8"/>
<line x1="511.9" y1="370.2" x2="511.9" y2="371.4" stroke="#111" stroke-width="0.8"/>
<line x1="513.7" y1="370.2" x2="513.7" y2="372.4" stroke="#111" stroke-width="0.8"/>
<text x="369.6" y="379.6" font-size="6" font-weight="bold" text-anchor="middle" font-family='"Liberation Sans", sans-serif'>0.1</text>
<text x="405.8" y="379.6" font-size="6" font-weight="bold" text-anchor="middle" font-family='"Liberation Sans", sans-serif'>1</text>
<text x="441.2" y="379.6" font-size="6" font-weight="bold" text-anchor="middle" font-family='"Liberation Sans", sans-serif'>10</text>
<text x="477.6" y="379.6" font-size="6" font-weight="bold" text-anchor="middle" font-family='"Liberation Sans", sans-serif'>100</text>
<text x="513.6" y="379.6" font-size="6" font-weight="bold" text-anchor="middle" font-family='"Liberation Sans", sans-serif'>1000</text>
<text x="405.8" y="390.0" font-size="6.6" font-weight="bold" font-family='"Liberation Sans", sans-serif'>Relative Expression</text>
<circle cx="402.6" cy="23.4" r="1.75" fill="#000"/>
<circle cx="398.9" cy="27.7" r="1.75" fill="#000"/>
<circle cx="398.9" cy="32.3" r="1.75" fill="#000"/>
<circle cx="402" cy="36.6" r="1.75" fill="#000"/>
<circle cx="422.5" cy="29.9" r="1.75" fill="#000"/>
<circle cx="429.6" cy="45.4" r="1.75" fill="#000"/>
<circle cx="429.2" cy="50.4" r="1.75" fill="#000"/>
<circle cx="441.5" cy="47.9" r="1.75" fill="#000"/>
<circle cx="452.7" cy="47.9" r="1.75" fill="#000"/>
<circle cx="410" cy="63.4" r="1.75" fill="#000"/>
<circle cx="409.2" cy="68.5" r="1.75" fill="#000"/>
<circle cx="421.5" cy="63.3" r="1.75" fill="#000"/>
<circle cx="423.8" cy="68.2" r="1.75" fill="#000"/>
<circle cx="433.5" cy="65.8" r="1.75" fill="#000"/>
<circle cx="396.2" cy="81.2" r="1.75" fill="#000"/>
<circle cx="392.8" cy="86.2" r="1.75" fill="#000"/>
<circle cx="402.6" cy="83.8" r="1.75" fill="#000"/>
<circle cx="366.9" cy="101.8" r="1.75" fill="#000"/>
<circle cx="372.3" cy="101.8" r="1.75" fill="#000"/>
<circle cx="391.1" cy="101.8" r="1.75" fill="#000"/>
<circle cx="418" cy="119.5" r="1.75" fill="#000"/>
<circle cx="426.4" cy="114.6" r="1.75" fill="#000"/>
<circle cx="425.5" cy="119.6" r="1.75" fill="#000"/>
<circle cx="425.5" cy="124.6" r="1.75" fill="#000"/>
<circle cx="438.7" cy="117.1" r="1.75" fill="#000"/>
<circle cx="438.7" cy="122" r="1.75" fill="#000"/>
<circle cx="451.2" cy="137.5" r="1.75" fill="#000"/>
<circle cx="463.2" cy="137.5" r="1.75" fill="#000"/>
<circle cx="476" cy="137.5" r="1.75" fill="#000"/>
<circle cx="480.6" cy="132.6" r="1.75" fill="#000"/>
<circle cx="482.7" cy="137.5" r="1.75" fill="#000"/>
<circle cx="480.6" cy="142.5" r="1.75" fill="#000"/>
<circle cx="507.5" cy="137.5" r="1.75" fill="#000"/>
<circle cx="497.5" cy="155.4" r="1.75" fill="#000"/>
<circle cx="504.2" cy="155.4" r="1.75" fill="#000"/>
<circle cx="429.1" cy="173.3" r="1.75" fill="#000"/>
<circle cx="452.7" cy="173.1" r="1.75" fill="#000"/>
<circle cx="461.7" cy="173.1" r="1.75" fill="#000"/>
<circle cx="479.6" cy="186.3" r="1.75" fill="#000"/>
<circle cx="489.6" cy="186.3" r="1.75" fill="#000"/>
<circle cx="478.3" cy="191.2" r="1.75" fill="#000"/>
<circle cx="485.4" cy="191.2" r="1.75" fill="#000"/>
<circle cx="482.9" cy="196.3" r="1.75" fill="#000"/>
<circle cx="488.3" cy="196.3" r="1.75" fill="#000"/>
<circle cx="470.6" cy="209.2" r="1.75" fill="#000"/>
<circle cx="479.2" cy="206.5" r="1.75" fill="#000"/>
<circle cx="482.9" cy="211.7" r="1.75" fill="#000"/>
<circle cx="497.5" cy="209.2" r="1.75" fill="#000"/>
<circle cx="507.1" cy="209.2" r="1.75" fill="#000"/>
<circle cx="488.3" cy="220.8" r="1.75" fill="#000"/>
<circle cx="486.3" cy="223.8" r="1.75" fill="#000"/>
<circle cx="460" cy="227.1" r="1.75" fill="#000"/>
<circle cx="467.7" cy="224.6" r="1.75" fill="#000"/>
<circle cx="476.3" cy="224.6" r="1.75" fill="#000"/>
<circle cx="468.7" cy="229.6" r="1.75" fill="#000"/>
<circle cx="473.8" cy="229.6" r="1.75" fill="#000"/>
<circle cx="483.5" cy="226.7" r="1.75" fill="#000"/>
<circle cx="483.8" cy="230.4" r="1.75" fill="#000"/>
<circle cx="486.9" cy="233.5" r="1.75" fill="#000"/>
<circle cx="363.7" cy="240.4" r="1.75" fill="#000"/>
<circle cx="363.7" cy="245.4" r="1.75" fill="#000"/>
<circle cx="363.7" cy="250" r="1.75" fill="#000"/>
<circle cx="364.5" cy="258" r="1.75" fill="#000"/>
<circle cx="364.5" cy="263" r="1.75" fill="#000"/>
<circle cx="364.8" cy="267.9" r="1.75" fill="#000"/>
<circle cx="364.2" cy="276.5" r="1.75" fill="#000"/>
<circle cx="366.1" cy="278" r="1.75" fill="#000"/>
<circle cx="363.6" cy="280" r="1.75" fill="#000"/>
<circle cx="364.2" cy="282.2" r="1.75" fill="#000"/>
<circle cx="363.6" cy="284.5" r="1.75" fill="#000"/>
<circle cx="364.2" cy="292" r="1.75" fill="#000"/>
<circle cx="363.6" cy="294.9" r="1.75" fill="#000"/>
<circle cx="363.6" cy="297.8" r="1.75" fill="#000"/>
<circle cx="363.6" cy="300" r="1.75" fill="#000"/>
<circle cx="363.6" cy="302.4" r="1.75" fill="#000"/>
<circle cx="364.8" cy="305.2" r="1.75" fill="#000"/>
<circle cx="363.7" cy="311.9" r="1.75" fill="#000"/>
<circle cx="363.7" cy="316.5" r="1.75" fill="#000"/>
<circle cx="363.7" cy="321.1" r="1.75" fill="#000"/>
<circle cx="363.7" cy="329.5" r="1.75" fill="#000"/>
<circle cx="363.7" cy="334.1" r="1.75" fill="#000"/>
<circle cx="363.7" cy="339" r="1.75" fill="#000"/>
<circle cx="366.5" cy="352.1" r="1.75" fill="#000"/>
</svg>
</body></html>
